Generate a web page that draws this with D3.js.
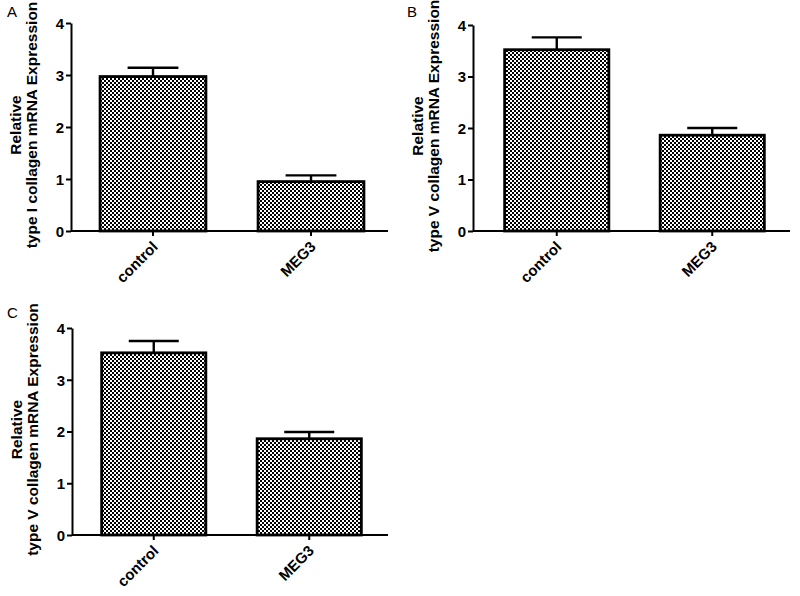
<!DOCTYPE html>
<html>
<head>
<meta charset="utf-8">
<script src="https://cdn.jsdelivr.net/npm/d3@7"></script>
<style>
  html, body { margin: 0; padding: 0; background: #fff; }
  svg { display: block; }
  text { font-family: "Liberation Sans", Arial, sans-serif; fill: #000; }
</style>
</head>
<body>
<svg id="chart" width="800" height="596"></svg>
<script>
// ---- data ----
const categories = ["control", "MEG3"];
const yTicks = [0, 1, 2, 3, 4];
const panelLetters = ["A", "B", "C"];
const titleLine1 = ["Relative", "Relative", "Relative"];
const titleLine2 = [
  "type I collagen mRNA Expression",
  "type V collagen mRNA Expression",
  "type V collagen mRNA Expression"
];
const meansA = [2.97, 0.95];
const errorsA = [0.17, 0.12];
const meansB = [3.52, 1.86];
const errorsB = [0.24, 0.14];
const meansC = [3.52, 1.86];
const errorsC = [0.23, 0.13];

// ---- layout (positions only) ----
const layouts = [
  { axisX: 71, xEnd: 388, yTop: 23, yBottom: 231, bandStart: 74, bandEnd: 390, letterX: 7, letterY: 17 },
  { axisX: 473, xEnd: 790, yTop: 25, yBottom: 231, bandStart: 479, bandEnd: 790, letterX: 407, letterY: 17 },
  { axisX: 72, xEnd: 388, yTop: 328, yBottom: 535, bandStart: 76, bandEnd: 387, letterX: 7, letterY: 318 }
];
const meansAll = [meansA, meansB, meansC];
const errorsAll = [errorsA, errorsB, errorsC];

const svg = d3.select("#chart");

// checkerboard pattern
const cell = 2;
const pat = svg.append("defs").append("pattern")
  .attr("id", "checker")
  .attr("patternUnits", "userSpaceOnUse")
  .attr("width", cell * 2).attr("height", cell * 2);
pat.append("rect").attr("width", cell * 2).attr("height", cell * 2).attr("fill", "#fff");
pat.append("rect").attr("x", 0).attr("y", 0).attr("width", cell).attr("height", cell).attr("fill", "#000");
pat.append("rect").attr("x", cell).attr("y", cell).attr("width", cell).attr("height", cell).attr("fill", "#000");

layouts.forEach((L, i) => {
  const means = meansAll[i];
  const errors = errorsAll[i];
  const g = svg.append("g");

  const y = d3.scaleLinear().domain([0, 4]).range([L.yBottom, L.yTop]);
  const x = d3.scaleBand().domain(categories).range([L.bandStart, L.bandEnd])
    .paddingInner(0.33).paddingOuter(0.165);

  // bars
  g.selectAll("rect.bar").data(categories).enter().append("rect")
    .attr("class", "bar")
    .attr("x", d => x(d))
    .attr("width", x.bandwidth())
    .attr("y", (d, j) => y(means[j]))
    .attr("height", (d, j) => y(0) - y(means[j]))
    .attr("fill", "url(#checker)")
    .attr("stroke", "#000")
    .attr("stroke-width", 2.8);

  // error bars
  categories.forEach((c, j) => {
    const cx = x(c) + x.bandwidth() / 2;
    g.append("line")
      .attr("x1", cx).attr("x2", cx)
      .attr("y1", y(means[j])).attr("y2", y(means[j] + errors[j]))
      .attr("stroke", "#000").attr("stroke-width", 2.4);
    g.append("line")
      .attr("x1", cx - x.bandwidth() * 0.24).attr("x2", cx + x.bandwidth() * 0.24)
      .attr("y1", y(means[j] + errors[j])).attr("y2", y(means[j] + errors[j]))
      .attr("stroke", "#000").attr("stroke-width", 2.4);
  });

  // y axis
  const yAxis = d3.axisLeft(y).tickValues(yTicks).tickFormat(d3.format("d")).tickSize(5).tickSizeOuter(0);
  const ya = g.append("g").attr("transform", `translate(${L.axisX},0)`).call(yAxis);
  ya.select(".domain").attr("stroke", "#000").attr("stroke-width", 2);
  ya.selectAll(".tick line").attr("stroke", "#000").attr("stroke-width", 2);
  ya.selectAll(".tick text")
    .attr("x", -7).attr("dy", "0.36em")
    .style("font-family", '"Liberation Sans", Arial, sans-serif')
    .style("font-size", "15px").style("font-weight", "bold");

  // x axis
  const xAxis = d3.axisBottom(x).tickSize(5).tickSizeOuter(0);
  const xa = g.append("g").attr("transform", `translate(0,${L.yBottom})`).call(xAxis);
  xa.select(".domain").attr("d", `M${L.axisX},0H${L.xEnd}`).attr("stroke", "#000").attr("stroke-width", 2);
  xa.selectAll(".tick line").attr("stroke", "#000").attr("stroke-width", 2);
  xa.selectAll(".tick text")
    .attr("text-anchor", "end")
    .attr("transform", "translate(2,13) rotate(-45)")
    .attr("x", 0).attr("y", 0).attr("dy", "0.35em")
    .style("font-family", '"Liberation Sans", Arial, sans-serif')
    .style("font-size", "15px").style("font-weight", "bold");

  // y title
  const midY = (L.yTop + L.yBottom) / 2 - 2;
  const titleG = g.append("g").attr("transform", `translate(${L.axisX - 50},${midY}) rotate(-90)`);
  titleG.append("text").attr("x", 0).attr("y", 0).attr("text-anchor", "middle")
    .style("font-size", "15.5px").style("font-weight", "bold").text(titleLine1[i]);
  titleG.append("text").attr("x", 0).attr("y", 16).attr("text-anchor", "middle")
    .style("font-size", "15.5px").style("font-weight", "bold").text(titleLine2[i]);

  // panel letter
  g.append("text").attr("x", L.letterX).attr("y", L.letterY)
    .style("font-size", "15px").text(panelLetters[i]);
});
</script>
</body>
</html>
